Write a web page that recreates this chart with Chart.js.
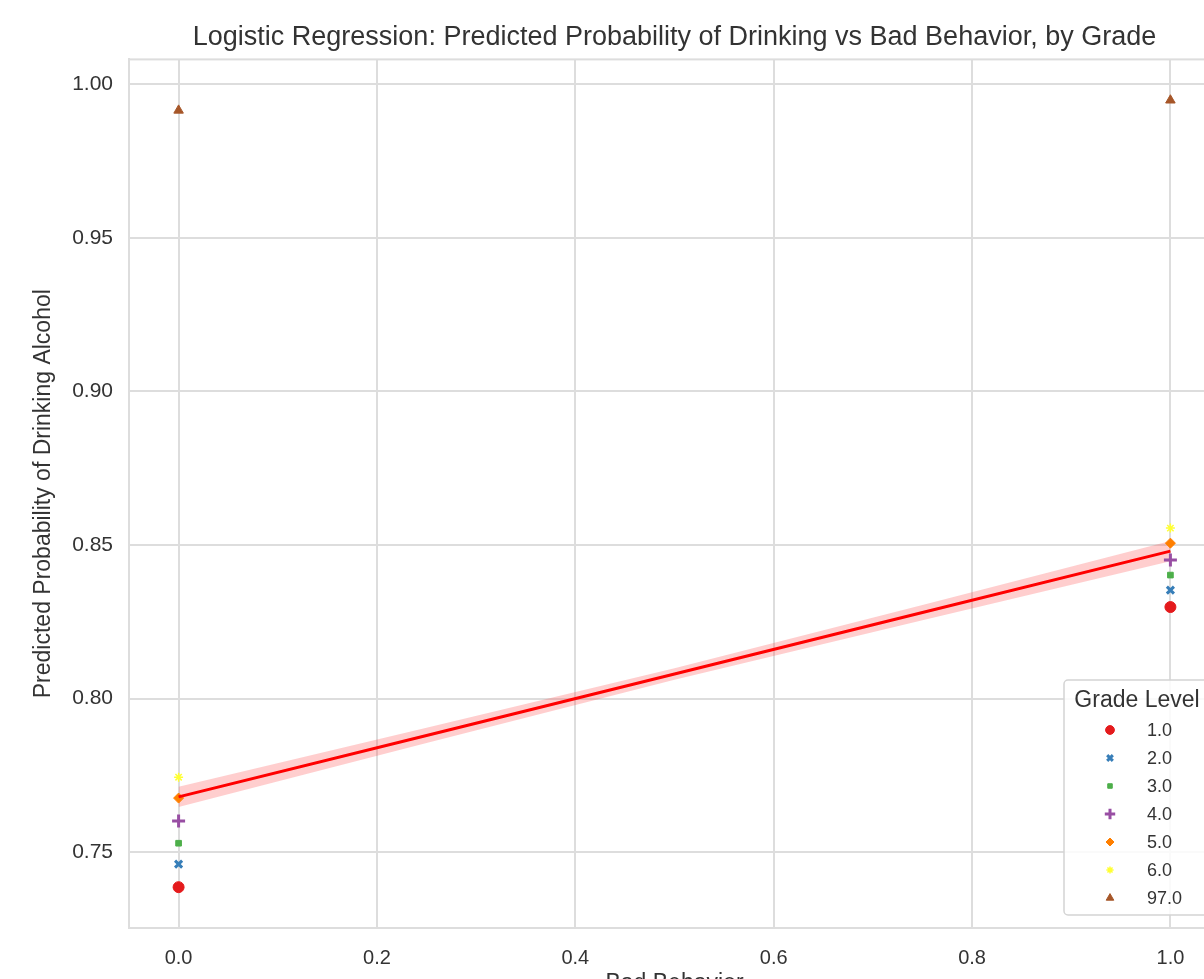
<!DOCTYPE html>
<html>
<head>
<meta charset="utf-8">
<script src="https://cdn.jsdelivr.net/npm/chart.js@4"></script>
<style>
  html, body { margin: 0; padding: 0; background: #fff; overflow: hidden; }
  #wrap { position: absolute; left: 0; top: 0; width: 1250px; height: 1000px; }
</style>
</head>
<body>
<div id="wrap"><canvas id="chart" width="1250" height="1000"></canvas></div>
<script>
// Data
const grades = ['1.0', '2.0', '3.0', '4.0', '5.0', '6.0', '97.0'];
const badBehavior = [0, 1];
const probAtZero = [0.7386, 0.7461, 0.7529, 0.7601, 0.7676, 0.7744, 0.9915];
const probAtOne  = [0.8298, 0.8353, 0.8402, 0.8451, 0.8506, 0.8555, 0.9948];

const fitX     = [0, 0.25, 0.5, 0.75, 1];
const fitY     = [0.768, 0.788, 0.808, 0.828, 0.848];
const fitLower = [0.7647, 0.7855, 0.8061, 0.8255, 0.8447];
const fitUpper = [0.7713, 0.7905, 0.8099, 0.8305, 0.8513];

const xTicks = [0, 0.2, 0.4, 0.6, 0.8, 1.0];
const yTicks = [0.75, 0.80, 0.85, 0.90, 0.95, 1.00];

const colors = ['#e41a1c', '#377eb8', '#4daf4a', '#984ea3', '#ff7f00', '#ffff33', '#a65628'];
const markers = ['circle', 'crossRot', 'rect', 'cross', 'rectRot', 'star', 'triangle'];
const radii = [5.5, 5, 4, 6.5, 5, 4.5, 5.5];
const widths = [1, 3, 1, 3, 1, 1.5, 1];

const FONT = 'Liberation Sans, Arial, sans-serif';
const TEXT = '#333333';
const GRID = '#dddddd';

const scatterSets = grades.map((g, i) => ({
  type: 'scatter',
  label: g,
  data: badBehavior.map((b, k) => ({ x: b, y: k === 0 ? probAtZero[i] : probAtOne[i] })),
  pointStyle: markers[i],
  pointRadius: radii[i],
  pointHoverRadius: radii[i],
  backgroundColor: colors[i],
  borderColor: colors[i],
  pointBorderWidth: widths[i],
  order: 2
}));

const toPts = (ys) => fitX.map((x, k) => ({ x: x, y: ys[k] }));

const fitSets = [
  { type: 'line', label: 'ci-low', data: toPts(fitLower), borderWidth: 0, pointRadius: 0, fill: false, order: 3, isFit: true },
  { type: 'line', label: 'ci-high', data: toPts(fitUpper), borderWidth: 0, pointRadius: 0,
    fill: '-1', backgroundColor: 'rgba(255, 80, 80, 0.28)', order: 3, isFit: true },
  { type: 'line', label: 'fit', data: toPts(fitY), borderColor: '#ff0000', borderWidth: 3,
    pointRadius: 0, fill: false, order: 1, isFit: true }
];

// plot frame (top / right edges) like seaborn whitegrid
const framePlugin = {
  id: 'frame',
  afterDraw(chart) {
    const { ctx, chartArea: a } = chart;
    ctx.save();
    ctx.strokeStyle = GRID;
    ctx.lineWidth = 2;
    ctx.strokeRect(a.left, a.top, a.right - a.left, a.bottom - a.top);
    ctx.restore();
  }
};

// legend box inside the plot, like matplotlib's
const legendPlugin = {
  id: 'gradeLegend',
  afterDraw(chart) {
    const ctx = chart.ctx;
    const bx = 1064, by = 680, bw = 150, bh = 235;
    ctx.save();
    ctx.fillStyle = 'rgba(255,255,255,0.85)';
    ctx.strokeStyle = '#d4d4d4';
    ctx.lineWidth = 1.5;
    ctx.beginPath();
    ctx.roundRect(bx, by, bw, bh, 4);
    ctx.fill();
    ctx.stroke();

    ctx.fillStyle = TEXT;
    ctx.font = '23px ' + FONT;
    ctx.textAlign = 'center';
    ctx.textBaseline = 'middle';
    ctx.fillText('Grade Level', 1137, 701);

    ctx.font = '18px ' + FONT;
    ctx.textAlign = 'left';
    chart.data.datasets.forEach((ds, i) => {
      if (ds.isFit) return;
      const y = 730 + 28 * i;
      ctx.fillStyle = ds.backgroundColor;
      ctx.strokeStyle = ds.borderColor;
      ctx.lineWidth = ds.pointBorderWidth;
      Chart.helpers.drawPoint(ctx, { pointStyle: ds.pointStyle, radius: ds.pointRadius * 0.8, borderWidth: ds.pointBorderWidth, rotation: 0 }, 1110, y);
      ctx.fillStyle = TEXT;
      ctx.fillText(ds.label, 1147, y + 1);
    });
    ctx.restore();
  }
};

new Chart(document.getElementById('chart'), {
  data: { datasets: scatterSets.concat(fitSets) },
  options: {
    responsive: false,
    animation: false,
    layout: { padding: { left: 0, right: 30, top: 0, bottom: 0 } },
    plugins: {
      legend: { display: false },
      tooltip: { enabled: false },
      title: {
        display: true,
        fullSize: false,
        text: 'Logistic Regression: Predicted Probability of Drinking vs Bad Behavior, by Grade',
        color: TEXT,
        font: { family: FONT, size: 27, weight: 'normal' },
        padding: { top: 21, bottom: 6 }
      }
    },
    scales: {
      x: {
        type: 'linear',
        min: -0.05,
        max: 1.05,
        afterFit: (s) => { s.height = 72; },
        afterBuildTicks: (s) => { s.ticks = xTicks.map(v => ({ value: v })); },
        ticks: {
          color: TEXT,
          font: { family: FONT, size: 20 },
          padding: 18,
          callback: (v) => Number(v).toFixed(1)
        },
        grid: { color: GRID, lineWidth: 2, drawTicks: false, tickLength: 0 },
        border: { display: true, color: GRID, width: 2 },
        title: {
          display: true,
          text: 'Bad Behavior',
          color: TEXT,
          font: { family: FONT, size: 23 },
          padding: { top: 4, bottom: 3 }
        }
      },
      y: {
        type: 'linear',
        min: 0.7253,
        max: 1.0081,
        afterFit: (s) => { s.width = 129; },
        afterBuildTicks: (s) => { s.ticks = yTicks.map(v => ({ value: v })); },
        ticks: {
          color: TEXT,
          font: { family: FONT, size: 21 },
          padding: 16,
          callback: (v) => Number(v).toFixed(2)
        },
        grid: { color: GRID, lineWidth: 2, drawTicks: false, tickLength: 0 },
        border: { display: true, color: GRID, width: 2 },
        title: {
          display: true,
          text: 'Predicted Probability of Drinking Alcohol',
          color: TEXT,
          font: { family: FONT, size: 23 },
          padding: { top: 30, bottom: 4 }
        }
      }
    }
  },
  plugins: [framePlugin, legendPlugin]
});
</script>
</body>
</html>
